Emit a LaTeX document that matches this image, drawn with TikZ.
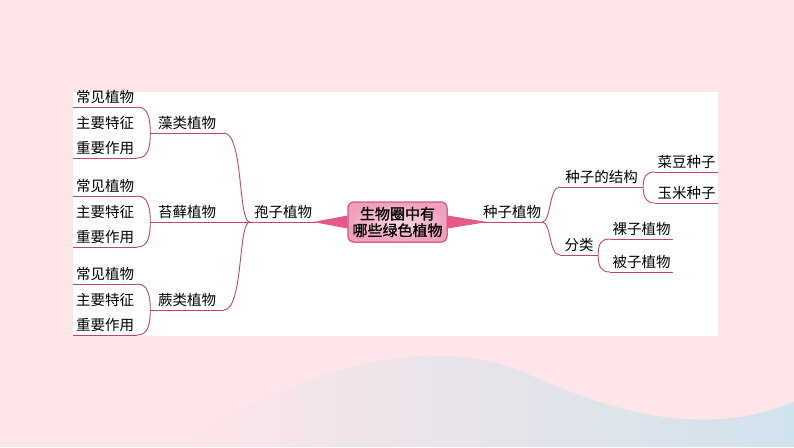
\documentclass[tikz,border=0pt]{standalone}
\usepackage{fontspec}
\newfontfamily\cjk{Noto Sans CJK SC}
\newfontfamily\cjkc[FakeBold=1.2]{Noto Sans CJK SC}
\definecolor{bgpink}{RGB}{253,229,232}
\definecolor{linec}{RGB}{192,70,112}
\definecolor{tri}{RGB}{228,88,138}
\definecolor{nodeborder}{RGB}{208,80,128}
\definecolor{nodefill}{RGB}{240,160,190}
\definecolor{nodefillc}{RGB}{250,214,226}
\definecolor{wave}{RGB}{208,227,237}
\tikzset{
  lbl/.style={font=\cjk\fontsize{14.5}{16}\selectfont, inner xsep=0pt, inner ysep=2.5pt,
    text height=11pt, text depth=1.5pt, anchor=south},
  link/.style={draw=linec, line width=0.9pt},
  centre/.style={font=\cjkc\fontsize{15}{16.5}\selectfont, align=center,
    minimum width=99pt, minimum height=40pt, inner sep=0pt, rounded corners=6pt,
    draw=nodeborder, line width=1pt, inner color=nodefillc, outer color=nodefill},
}
\begin{document}
\begin{tikzpicture}[x=1pt,y=-1pt]
\useasboundingbox (0,0) rectangle (794,447);
% background
\fill[bgpink] (0,0) rectangle (794,447);
\shade[left color=bgpink, right color=wave]
  (180,447) .. controls (280,380) and (420,325) .. (530,375)
  .. controls (610,410) and (700,440) .. (794,402) -- (794,447) -- cycle;
\fill[white] (73,92) rectangle (718,336);

% left leaves
\foreach \g/\y in {a/133,b/222,c/310}{
  \node[lbl, minimum width=64pt] (\g1) at (105,\y-26) {常见植物};
  \node[lbl, minimum width=64pt] (\g2) at (105,\y) {主要特征};
  \node[lbl, minimum width=64pt] (\g3) at (105,\y+25) {重要作用};
}
\node[lbl, minimum width=73pt] (A) at (187,133) {藻类植物};
\node[lbl, minimum width=73pt] (B) at (187,222) {苔藓植物};
\node[lbl, minimum width=73pt] (C) at (187,310) {蕨类植物};
\node[lbl, minimum width=66pt] (P) at (283,222) {孢子植物};

% centre
\coordinate (tl) at (313,222);
\coordinate (tr) at (487,222);
\node[centre] (M) at (397.5,222) {生物圈中有\\哪些绿色植物};
\fill[tri] ([yshift=-6.5pt]M.west) -- (tl) -- ([yshift=6.5pt]M.west) -- cycle;
\fill[tri] ([yshift=-6.5pt]M.east) -- (tr) -- ([yshift=6.5pt]M.east) -- cycle;
\node[centre] at (M) {生物圈中有\\哪些绿色植物};

% right side
\node[lbl, minimum width=60pt] (S) at (512,222) {种子植物};
\node[lbl, minimum width=83pt] (S1) at (601.5,187) {种子的结构};
\node[lbl, minimum width=38pt] (S2) at (579,255) {分类};
\node[lbl, minimum width=63pt] (S11) at (686.5,172) {菜豆种子};
\node[lbl, minimum width=63pt] (S12) at (686.5,203) {玉米种子};
\node[lbl, minimum width=63pt] (S21) at (641.5,239) {裸子植物};
\node[lbl, minimum width=63pt] (S22) at (641.5,272) {被子植物};

% underlines
\foreach \n in {a1,a3,b1,b3,c1,c3,A,C,P,S,S1,S2,S11,S12,S21,S22}
  \draw[link] (\n.south west) -- (\n.south east);
\draw[link] (B.south west) -- (P.south west);

% leaf brackets
\foreach \g/\G in {a/A,b/B,c/C}{
  \draw[link] (\g1.south east) .. controls +(11,0) and +(0,-14) .. (\G.south west)
     .. controls +(0,14) and +(11,0) .. (\g3.south east);
}
% to P
\draw[link] (A.south east) .. controls +(20,0) and +(-12,0) .. (P.south west);
\draw[link] (C.south east) .. controls +(20,0) and +(-12,0) .. (P.south west);
% right branches
\draw[link] (S.south east) .. controls +(9,0) and +(-11,0) .. (S1.south west);
\draw[link] (S.south east) .. controls +(9,0) and +(-11,0) .. (S2.south west);
\draw[link] (S11.south west) .. controls +(-9,0) and +(0,-10) .. (S1.south east)
   .. controls +(0,10) and +(-9,0) .. (S12.south west);
\draw[link] (S21.south west) .. controls +(-9,0) and +(0,-11) .. (S2.south east)
   .. controls +(0,11) and +(-9,0) .. (S22.south west);
\end{tikzpicture}
\end{document}
